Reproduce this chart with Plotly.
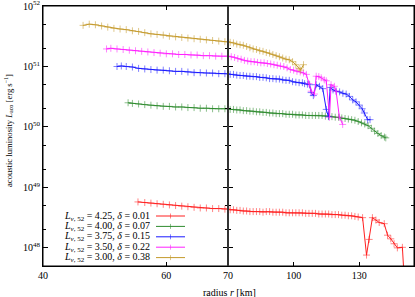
import plotly.graph_objects as go

# ---------------- data (luminosity in units of 1e50 erg/s) ----------------
UNIT = 1e50

r_038 = [46.5, 47.5, 48.5, 49.5, 50.5, 51.5, 52.5, 53.5, 54.5, 55.5, 56.5, 57.5, 58.5, 59.5,
         60.5, 61.5, 62.5, 63.5, 64.5, 65.5, 66.5, 67.5, 68.5, 69.5,
         71, 72.5, 74, 75.5, 77, 78.5, 80, 81.5, 83, 84.5, 86, 87.5, 89, 90.5, 92, 93.5,
         95, 96.5, 98, 99.5, 101, 102.5, 103.2, 104.5]
L_038 = [47.9, 50.1, 49.0, 46.8, 44.7, 42.7, 41.7, 40.7, 38.9, 38.0, 36.3, 34.7, 33.9, 33.1,
         31.6, 30.9, 30.2, 29.5, 28.8, 28.2, 27.5, 26.9, 26.3, 25.7,
         25.1, 24.5, 23.4, 22.9, 22.4, 21.4, 20.4, 19.5, 19.1, 18.2, 17.8, 17.0, 16.6, 15.8, 15.1, 14.5,
         13.8, 13.2, 12.9, 12.0, 10.7, 9.3, 8.7, 10.7]

r_022 = [50.3, 51.0, 52.0, 53.0, 54.0, 55.0, 56.0, 57.0, 58.0, 59.0, 60.0, 61.0, 62.0, 63.0,
         64.0, 65.0, 66.0, 67.0, 68.0, 69.0, 70.0,
         71.5, 73, 74.5, 76, 77.5, 79, 80.5, 82, 83.5, 85, 86.5, 88, 89.5, 91, 92.5, 94, 95.5,
         97, 98.5, 100, 101.5, 103, 104.5, 105.8, 107, 108, 109.5, 110.3, 111.5, 112.6, 114,
         114.9, 116.4, 117.1, 118.6, 119.4, 120.9, 122.4]
L_022 = [19.5, 20.0, 19.5, 19.1, 18.6, 18.2, 17.8, 17.4, 17.0, 16.6, 16.2, 16.2, 15.8, 15.8,
         15.5, 15.5, 15.1, 15.1, 14.8, 14.8, 14.8,
         14.5, 14.1, 13.5, 13.2, 12.6, 12.3, 12.0, 12.0, 11.7, 11.5, 11.5, 11.2, 11.0, 10.7, 10.5, 10.2, 10.0,
         9.5, 8.9, 8.7, 8.3, 8.1, 7.8, 7.4, 5.2, 3.9, 3.5, 6.9, 6.8, 6.5, 6.0,
         5.8, 1.45, 5.0, 4.7, 3.9, 1.45, 1.1]

r_015 = [52.0, 52.7, 53.5, 54.5, 55.5, 56.5, 57.5, 58.5, 59.5, 60.5, 61.5, 62.5, 63.5, 64.5,
         65.5, 66.5, 67.5, 68.5, 69.5,
         71, 72.5, 74, 75.5, 77, 78.5, 80, 81.5, 83, 84.5, 86, 87.5, 89, 90.5, 92, 93.5, 95,
         96.5, 98, 99.5, 101, 102.5, 104, 105, 106.3, 107.3, 108, 109, 110.3, 111.8, 113.3,
         114.9, 115.9, 116.7, 118, 119.4, 121, 122.5, 124, 125.5, 127, 128.5, 130, 131.3,
         132.3, 133.8, 134.9]
L_015 = [10.0, 10.2, 10.0, 9.8, 9.3, 9.1, 8.9, 8.7, 8.7, 8.5, 8.3, 8.3, 8.1, 7.9,
         7.9, 7.8, 7.8, 7.6, 7.6,
         7.4, 7.4, 7.2, 7.1, 7.1, 6.9, 6.9, 6.8, 6.8, 6.6, 6.6, 6.5, 6.3, 6.3, 6.2, 6.2, 6.0,
         5.9, 5.9, 5.6, 5.5, 5.4, 5.4, 5.2, 5.1, 5.0, 3.7, 3.3, 5.0, 4.7, 4.3,
         1.95, 1.48, 4.5, 4.1, 3.9, 3.8, 3.6, 3.5, 3.2, 2.8, 2.6, 2.3, 2.0,
         1.7, 1.32, 1.32]

r_007 = [53.8, 54.5, 55.5, 56.5, 57.5, 58.5, 59.5, 60.5, 61.5, 62.5, 63.5, 64.5, 65.5, 66.5,
         67.5, 68.5, 69.5,
         71, 72.5, 74, 75.5, 77, 78.5, 80, 81.5, 83, 84.5, 86, 87.5, 89, 90.5, 92, 93.5, 95,
         96.5, 98, 99.5, 101, 102.5, 104, 105.5, 107, 108.5, 110, 111.5, 113, 114.5, 116,
         117.5, 119, 120.5, 122, 123.5, 125, 126.5, 128, 129.5, 131, 132.5, 134, 135.5, 137,
         138.5, 140, 141.5, 142.1]
L_007 = [2.51, 2.45, 2.40, 2.34, 2.29, 2.24, 2.19, 2.19, 2.14, 2.14, 2.09, 2.09, 2.04, 2.04,
         2.00, 2.00, 2.00,
         1.95, 1.95, 1.91, 1.91, 1.86, 1.86, 1.82, 1.82, 1.78, 1.78, 1.74, 1.74, 1.70, 1.70, 1.66, 1.66, 1.66,
         1.62, 1.62, 1.62, 1.58, 1.58, 1.58, 1.55, 1.55, 1.55, 1.55, 1.55, 1.55, 1.51, 1.51,
         1.48, 1.45, 1.45, 1.41, 1.38, 1.35, 1.32, 1.29, 1.23, 1.17, 1.12, 1.05, 0.95, 0.85,
         0.78, 0.72, 0.68, 0.66]

r_001 = [55.4, 56.5, 57.5, 58.5, 59.5, 60.5, 61.5, 62.5, 63.5, 64.5, 65.5, 66.5, 67.5, 68.5, 69.5,
         71, 72.5, 74, 75.5, 77, 78.5, 80, 81.5, 83, 84.5, 86, 87.5, 89, 90.5, 92, 93.5, 95,
         96.5, 98, 99.5, 101, 102.5, 104, 105.5, 107, 108.5, 110, 111.5, 113, 114.5, 116,
         117.5, 119, 120.5, 122, 123.5, 125, 126.5, 128, 129.5, 131.5, 133.3, 134.5, 136,
         137.6, 139.1, 141.4, 142.9, 144.4, 145.9, 147.4, 149.7, 150.5]
L_001 = [0.0575, 0.0562, 0.0550, 0.0537, 0.0525, 0.0513, 0.0501, 0.0490, 0.0479, 0.0468,
         0.0457, 0.0457, 0.0447, 0.0447, 0.0437,
         0.0427, 0.0427, 0.0417, 0.0417, 0.0407, 0.0407, 0.0398, 0.0398, 0.0398, 0.0398, 0.0389,
         0.0398, 0.0398, 0.0389, 0.0389, 0.0389, 0.0389,
         0.0380, 0.0380, 0.0380, 0.0380, 0.0380, 0.0380, 0.0372, 0.0372, 0.0372, 0.0372, 0.0363,
         0.0363, 0.0363, 0.0363,
         0.0355, 0.0355, 0.0355, 0.0347, 0.0347, 0.0339, 0.0339, 0.0331, 0.0324, 0.0316, 0.0076,
         0.0138, 0.0316,
         0.0288, 0.0263, 0.0251, 0.0162, 0.0141, 0.0117, 0.0100, 0.0102, 0.0032]

labels = ["4.25", "4.00", "3.75", "3.50", "3.00"]
deltas = ["0.01", "0.07", "0.15", "0.22", "0.38"]
series_r = [r_001, r_007, r_015, r_022, r_038]
series_L = [L_001, L_007, L_015, L_022, L_038]
colors = ["#ff2020", "#2e8b2e", "#1a1aff", "#ff20ff", "#c49a2c"]
marker_colors = ["rgba(255,32,32,0.55)", "rgba(46,139,46,0.55)", "rgba(26,26,255,0.55)",
                 "rgba(255,32,255,0.55)", "rgba(196,154,44,0.55)"]

x_ticks_left = [40, 60, 70]
x_ticks_right = [100, 130]
y_ticks = [1e48, 1e49, 1e50, 1e51, 1e52]
y_tick_text = ["10<sup>48</sup>", "10<sup>49</sup>", "10<sup>50</sup>", "10<sup>51</sup>", "10<sup>52</sup>"]
y_minor = [float(m) * 10.0 ** e for e in range(47, 52) for m in (2, 5)]

FONT = "Liberation Serif, Times New Roman, serif"

fig = go.Figure()

for rs, Ls, c, mc in zip(series_r, series_L, colors, marker_colors):
    vals = [v * UNIT for v in Ls]
    for xa, ya in (("x", "y"), ("x2", "y2")):
        fig.add_trace(go.Scatter(
            x=rs, y=vals, xaxis=xa, yaxis=ya, mode="lines+markers",
            line=dict(color=c, width=1),
            marker=dict(symbol="cross-thin", size=5, line=dict(color=mc, width=1), color=mc),
            showlegend=False, hoverinfo="skip"))

# legend drawn manually (gnuplot style: text on the left, sample on the right)
W, H = 371.0, 260.0
row_py = [216, 226.4, 236.8, 247.2, 257.6]
for lab, dl, c, mc, py in zip(labels, deltas, colors, marker_colors, row_py):
    yp = (266 - py) / H
    x0, x1 = (156 - 43) / W, (185 - 43) / W
    xm = (x0 + x1) / 2
    fig.add_shape(type="line", xref="paper", yref="paper", x0=x0, x1=x1, y0=yp, y1=yp,
                  line=dict(color=c, width=1))
    fig.add_shape(type="line", xref="paper", yref="paper", x0=xm, x1=xm,
                  y0=yp - 2.5 / H, y1=yp + 2.5 / H, line=dict(color=mc, width=1))
    fig.add_annotation(
        xref="paper", yref="paper", x=(152 - 43) / W, y=yp, xanchor="right", yanchor="middle",
        text=f"<i>L</i><sub><i>ν</i>, 52</sub> = {lab}, <i>δ</i> = {dl}",
        showarrow=False, font=dict(family=FONT, size=10, color="black"))

split = (228 - 43) / W
common_x = dict(showline=True, linecolor="black", linewidth=1, mirror="allticks", automargin=False,
                ticks="inside", ticklen=4, tickcolor="black", showgrid=False, zeroline=False,
                ticklabeloverflow="allow",
                tickfont=dict(family=FONT, size=10, color="black"))
common_y = dict(type="log", range=[47.70, 52.0005], showline=True, linecolor="black", linewidth=1,
                mirror="allticks", ticks="inside", ticklen=5, tickcolor="black", showgrid=False,
                zeroline=False, tickvals=y_ticks, automargin=False, ticklabeloverflow="allow",
                minor=dict(tickvals=y_minor, ticks="inside", ticklen=3, tickcolor="black", showgrid=False),
                tickfont=dict(family=FONT, size=10, color="black"))

fig.update_layout(
    width=415, height=297,
    margin=dict(l=43, r=1, t=6, b=31, autoexpand=False),
    paper_bgcolor="white", plot_bgcolor="white",
    font=dict(family=FONT, size=10, color="black"),
    xaxis=dict(domain=[0, split], range=[40, 70], anchor="y", tickvals=x_ticks_left, **common_x),
    xaxis2=dict(domain=[split, 1], range=[70, 155], anchor="y2", tickvals=x_ticks_right, **common_x),
    yaxis=dict(domain=[0, 1], anchor="x", ticktext=y_tick_text, **common_y),
    yaxis2=dict(domain=[0, 1], anchor="x2", showticklabels=False, **common_y),
    showlegend=False,
)

# frame drawn explicitly as well
fig.add_shape(type="rect", xref="paper", yref="paper", x0=0, x1=1, y0=0, y1=1,
              line=dict(color="black", width=1), layer="above")
fig.add_shape(type="line", xref="paper", yref="paper", x0=split, x1=split, y0=0, y1=1,
              line=dict(color="#333333", width=2))

fig.add_annotation(xref="paper", yref="paper", x=(229 - 43) / W, y=(266 - 292) / H,
                   text="radius <i>r</i> [km]", showarrow=False, xanchor="center", yanchor="middle",
                   font=dict(family=FONT, size=10, color="black"))
fig.add_annotation(xref="paper", yref="paper", x=(8 - 43) / W, y=(266 - 131) / H,
                   text="acoustic luminosity <i>L</i><sub>aco</sub> [erg s<sup>−1</sup>]",
                   textangle=-90, showarrow=False, xanchor="center", yanchor="middle",
                   font=dict(family=FONT, size=8.6, color="black"))

fig.write_html("out.html", config={"displayModeBar": False},
               post_script="document.body.style.margin='0';document.body.style.padding='0';"
                           "document.body.style.overflow='hidden';")
